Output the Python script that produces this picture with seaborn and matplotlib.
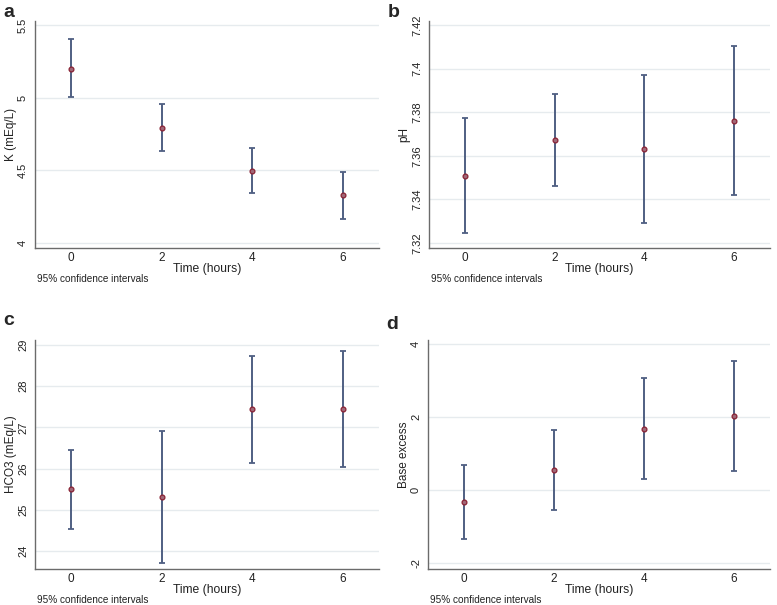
import numpy as np
import pandas as pd
import matplotlib
matplotlib.use('Agg')
import matplotlib.pyplot as plt
import seaborn as sns

# Dane
time_h = [0, 2, 4, 6]

k_mean = [5.20, 4.79, 4.493, 4.327]
k_lo = [5.005, 4.63, 4.341, 4.164]
k_hi = [5.405, 4.956, 4.652, 4.49]

ph_mean = [7.3506, 7.3672, 7.3630, 7.3761]
ph_lo = [7.3248, 7.3463, 7.3291, 7.3421]
ph_hi = [7.3774, 7.3884, 7.3971, 7.4102]

hco3_mean = [25.50, 25.31, 27.44, 27.455]
hco3_lo = [24.53, 23.72, 26.14, 26.05]
hco3_hi = [26.45, 26.91, 28.74, 28.85]

be_mean = [-0.335, 0.554, 1.69, 2.03]
be_lo = [-1.34, -0.546, 0.306, 0.526]
be_hi = [0.68, 1.654, 3.09, 3.53]

sns.set_style('white')
plt.rcParams['font.family'] = ['Liberation Sans', 'DejaVu Sans']

W, H = 777, 605
fig = plt.figure(figsize=(W / 100, H / 100), dpi=100)


def add_ax(l, r, t, b):
    return fig.add_axes([l / W, 1 - b / H, (r - l) / W, (b - t) / H])


panels = [
    ('a', (35, 379, 21, 248), k_mean, k_lo, k_hi, 'K (mEq/L)', [4, 4.5, 5, 5.5], ['4', '4.5', '5', '5.5'], (3.965, 5.528)),
    ('b', (429, 770, 21, 248), ph_mean, ph_lo, ph_hi, 'pH', [7.32, 7.34, 7.36, 7.38, 7.40, 7.42],
     ['7.32', '7.34', '7.36', '7.38', '7.4', '7.42'], (7.3177, 7.4218)),
    ('c', (35, 379, 340, 569), hco3_mean, hco3_lo, hco3_hi, 'HCO3 (mEq/L)', [24, 25, 26, 27, 28, 29],
     ['24', '25', '26', '27', '28', '29'], (23.57, 29.12)),
    ('d', (428, 770, 340, 569), be_mean, be_lo, be_hi, 'Base excess', [-2, 0, 2, 4], ['-2', '0', '2', '4'], (-2.165, 4.12)),
]

label_pos = {'a': (3, 4), 'b': (388, 4), 'c': (3, 312), 'd': (386, 316)}

for name, box, mean, lo, hi, ylab, yt, ytl, ylim in panels:
    ax = add_ax(*box)
    df = pd.DataFrame({'t': time_h, 'm': mean, 'lo': lo, 'hi': hi})
    ax.errorbar(df['t'], df['m'], yerr=[df['m'] - df['lo'], df['hi'] - df['m']],
                fmt='none', ecolor='#4f5f82', elinewidth=1.4, capsize=2.5, capthick=1.3, zorder=2)
    sns.scatterplot(data=df, x='t', y='m', ax=ax, marker='o', s=12, color='#a06878',
                    edgecolor='#8a2234', linewidth=0.9, zorder=3)
    ax.set_xlim(-0.8, 6.8)
    ax.set_ylim(*ylim)
    ax.set_xticks(time_h)
    ax.set_xticklabels([str(t) for t in time_h], fontsize=8.5)
    ax.set_yticks(yt)
    ax.set_yticklabels(ytl, fontsize=8, rotation=90, va='center')
    ax.grid(axis='y', color='#e6ebee', linewidth=1.0)
    ax.grid(axis='x', visible=False)
    ax.set_axisbelow(True)
    for s in ['top', 'right']:
        ax.spines[s].set_visible(False)
    for s in ['left', 'bottom']:
        ax.spines[s].set_color('#6b6b6b')
        ax.spines[s].set_linewidth(1.0)
    ax.tick_params(axis='y', length=3, width=0.8, color='#6b6b6b', pad=2, labelcolor='#222222')
    ax.tick_params(axis='x', length=0, width=0.8, color='#6b6b6b', pad=3, labelcolor='#222222')
    ax.set_xlabel('Time (hours)', fontsize=8.7, labelpad=-1, color='#222222')
    ax.set_ylabel(ylab, fontsize=8.5, labelpad=1, color='#222222')
    l, r, t, b = box
    fig.text((l + 2) / W, 1 - (b + 31) / H, '95% confidence intervals', fontsize=7.2,
             color='#222222', ha='left', va='center')
    lx, ly = label_pos[name]
    fig.text(lx / W, 1 - ly / H, name, fontsize=14, fontweight='bold', ha='left', va='top')

fig.savefig('out.png', dpi=100)
